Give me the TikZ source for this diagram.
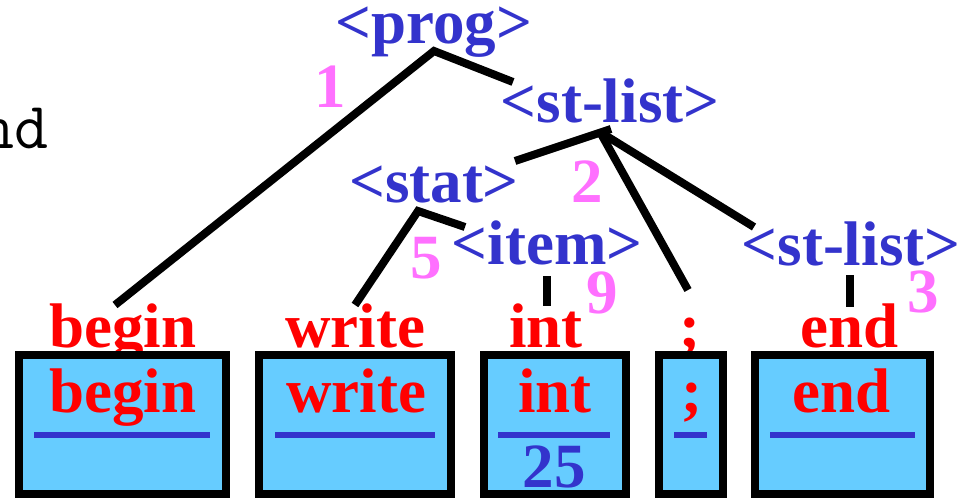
\documentclass[tikz,border=0pt]{standalone}
\usepackage{fontspec}
\setmainfont{Liberation Serif}
\definecolor{ntblue}{HTML}{3333CC}
\definecolor{tokred}{HTML}{FF0000}
\definecolor{numpink}{HTML}{FF70FF}
\definecolor{cellblue}{HTML}{66CCFF}
\begin{document}
\begin{tikzpicture}[x=1pt,y=-1pt,
  bigfont/.style={font=\fontsize{63}{63}\selectfont\bfseries},
  nt/.style={bigfont, text=ntblue, inner sep=0pt, anchor=base},
  tok/.style={bigfont, text=tokred, inner sep=0pt, anchor=base},
  num/.style={bigfont, text=numpink, inner sep=0pt, anchor=base},
  val/.style={bigfont, text=ntblue, inner sep=0pt, anchor=base},
  edge/.style={draw=black, line width=8pt},
  cell/.style={draw=black, line width=8pt, fill=cellblue},
  bar/.style={draw=ntblue, line width=6pt}]
\useasboundingbox (0,0) rectangle (963,498);
\clip (0,0) rectangle (963,498);

% cut-off text at left
\node[font=\fontsize{66}{66}\selectfont\ttfamily, anchor=base east, inner sep=0pt] (endtxt) at (49,148) {end};

% nonterminals
\node[nt] (prog) at (434,43) {<prog>};
\node[nt] (stlistA) at (610,122) {<st-list>};
\node[nt] (stat) at (434,202) {<stat>};
\node[nt] (item) at (547,264) {<item>};
\node[nt] (stlistB) at (851,265) {<st-list>};

% step numbers
\node[num] (n1) at (330,107) {1};
\node[num] (n2) at (587,202) {2};
\node[num] (n5) at (426,278) {5};
\node[num] (n9) at (602,313) {9};
\node[num] (n3) at (923,312) {3};

% tokens
\node[tok] (tBegin) at (123,347) {begin};
\node[tok] (tWrite) at (355,347) {write};
\node[tok] (tInt) at (546,347) {int};
\node[tok] (tSemi) at (690,347) {;};
\node[tok] (tEnd) at (850,347) {end};

% token cells
\draw[cell] (19,355) rectangle (226,494);
\draw[cell] (259,355) rectangle (451,494);
\draw[cell] (484,355) rectangle (626,494);
\draw[cell] (659,355) rectangle (723,494);
\draw[cell] (755,355) rectangle (930,494);

\node[tok] (cBegin) at (123,412) {begin};
\node[tok] (cWrite) at (356,412) {write};
\node[tok] (cInt) at (555,412) {int};
\node[tok] (cSemi) at (692,412) {;};
\node[tok] (cEnd) at (842,412) {end};
\node[val] (c25) at (554,487) {25};

\draw[bar] (34,435) -- (210,435);
\draw[bar] (275,435) -- (435,435);
\draw[bar] (498,435) -- (610,435);
\draw[bar] (674,435) -- (707,435);
\draw[bar] (770,435) -- (915,435);

% connector points
\coordinate (progV) at (434,51);
\coordinate (progL) at (115,305);
\coordinate (progR) at (513,82);
\coordinate (slV) at (600,132);
\coordinate (slT) at (611,129);
\coordinate (slL) at (515,161);
\coordinate (slM) at (688,290);
\coordinate (slR) at (754,227);
\coordinate (stV) at (418,211);
\coordinate (stL) at (355,305);
\coordinate (stR) at (465,227);
\coordinate (itA) at (547,276);
\coordinate (itB) at (547,306);
\coordinate (sbA) at (850,275);
\coordinate (sbB) at (850,307);

\draw[edge] (progL) -- (progV) -- (progR);
\draw[edge] (slL) -- (slT);
\draw[edge] (slV) -- (slM);
\draw[edge] (slV) -- (slR);
\draw[edge] (stL) -- (stV) -- (stR);
\draw[edge] (itA) -- (itB);
\draw[edge] (sbA) -- (sbB);
\end{tikzpicture}
\end{document}
